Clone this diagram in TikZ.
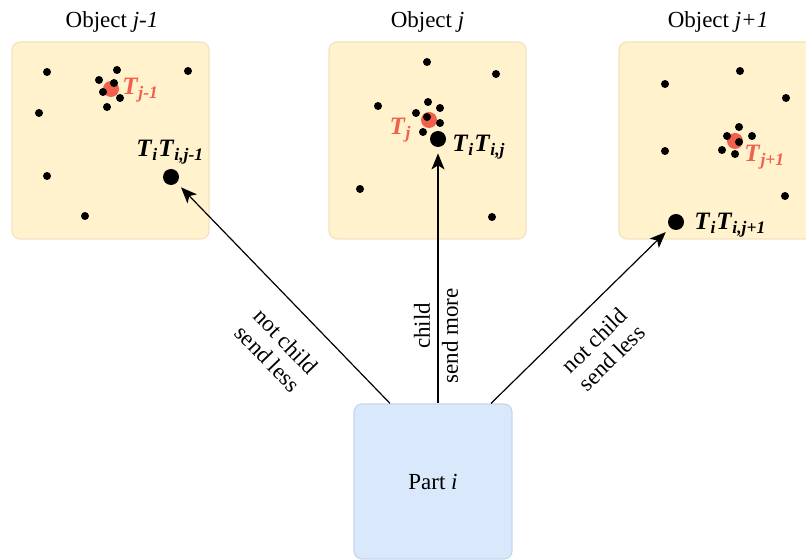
\documentclass[tikz,border=0pt]{standalone}
\usepackage{fontspec}
\setmainfont{Liberation Serif}
\usetikzlibrary{arrows.meta}

\definecolor{objfill}{HTML}{FFF2CC}
\definecolor{objline}{HTML}{F3E2C0}
\definecolor{partfill}{HTML}{DAE8FC}
\definecolor{partline}{HTML}{C6D6EE}
\definecolor{tred}{HTML}{F0604C}

% bold italic transform symbol and its subscript
\newcommand\bT{\textbf{\textit{T}}}
\newcommand\bsub[1]{\textsubscript{\textbf{\textit{#1}}}}

\begin{document}
\begin{tikzpicture}[x=0.5pt, y=-0.5pt,
  font=\fontsize{11.5}{12.5}\selectfont,
  objbox/.style={draw=objline, fill=objfill, line width=0.6pt, rounded corners=4pt,
    minimum width=98.5pt, minimum height=98.5pt, inner sep=0pt},
  partbox/.style={draw=partline, fill=partfill, line width=0.6pt, rounded corners=4pt,
    minimum width=79pt, minimum height=77.5pt, inner sep=0pt},
  dot/.style={circle, fill=black, inner sep=0pt, minimum size=4pt},
  bigdot/.style={circle, fill=black, inner sep=0pt, minimum size=8pt},
  reddot/.style={circle, fill=tred, inner sep=0pt, minimum size=8pt},
  tlabel/.style={inner sep=0pt, text=tred, font=\fontsize{12.5}{14}\selectfont},
  plabel/.style={inner sep=0pt, font=\fontsize{12.5}{14}\selectfont},
  title/.style={anchor=base, inner sep=0pt},
  edgelabel/.style={align=center, inner sep=0pt},
  sendarrow/.style={-{Stealth[length=8pt, width=6.5pt, inset=2pt]}, line width=0.6pt, shorten >=3pt}
]
\useasboundingbox (0,0) rectangle (806,560);
\begin{scope}
\clip (0,0) rectangle (806,560);

% ---------- object j-1 ----------
\node[objbox] (objL) at (110.5,140.5) {};
\node[title] (titleL) at (112,28) {Object \textit{j-1}};
\node[reddot] (cL) at (111,89) {};
\foreach \p [count=\k] in {(47,72),(188,71),(117,70),(99,80),(114,83),(103,92),(120,98),(107,107),(39,113),(47,176),(85,216)}
  \node[dot] (dL\k) at \p {};
\node[bigdot] (bigL) at (171,177) {};
\node[tlabel, anchor=base west] (tL) at (122,95) {\bT\bsub{j-1}};
\node[plabel, anchor=base west] (pL) at (136,157) {\bT\bsub{i}\bT\bsub{i,j-1}};

% ---------- object j ----------
\node[objbox] (objM) at (427.5,140.5) {};
\node[title] (titleM) at (427.5,28) {Object \textit{j}};
\node[reddot] (cM) at (429,120) {};
\foreach \p [count=\k] in {(427,62),(496,74),(378,106),(428,102),(440,108),(416,113),(427,117),(440,123),(423,132),(360,189),(492,217)}
  \node[dot] (dM\k) at \p {};
\node[bigdot] (bigM) at (438,139) {};
\node[tlabel, anchor=base east] (tM) at (412,135) {\bT\bsub{j}};
\node[plabel, anchor=base west] (pM) at (452,152) {\bT\bsub{i}\bT\bsub{i,j}};

% ---------- object j+1 ----------
\node[objbox] (objR) at (717.5,140.5) {};
\node[title] (titleR) at (718,28) {Object \textit{j+1}};
\node[reddot] (cR) at (735,141) {};
\foreach \p [count=\k] in {(740,71),(665,84),(786,98),(739,127),(727,136),(752,136),(739,142),(722,150),(735,154),(665,151),(785,196)}
  \node[dot] (dR\k) at \p {};
\node[bigdot] (bigR) at (676,222) {};
\node[tlabel, anchor=base west] (tR) at (744,162) {\bT\bsub{j+1}};
\node[plabel, anchor=base west] (pR) at (694,230) {\bT\bsub{i}\bT\bsub{i,j+1}};

% ---------- part i ----------
\node[partbox] (part) at (433,481.5) {Part \textit{i}};
\coordinate (sL) at ([xshift=-21.5pt]part.north);
\coordinate (sM) at ([xshift=2.5pt]part.north);
\coordinate (sR) at ([xshift=29pt]part.north);

% ---------- messages ----------
\draw[sendarrow] (sL) -- (bigL);
\draw[sendarrow] (sM) -- (bigM);
\draw[sendarrow] (sR) -- (bigR);

\node[edgelabel, rotate=-46] (lblL) at (277,350) {not child\\send less};
\node[edgelabel, rotate=90] (lblMa) at (422,326) {child};
\node[edgelabel, rotate=90] (lblMb) at (450,336) {send more};
\node[edgelabel, rotate=44.5] (lblR) at (603,349) {not child\\send less};
\end{scope}
\end{tikzpicture}
\end{document}
